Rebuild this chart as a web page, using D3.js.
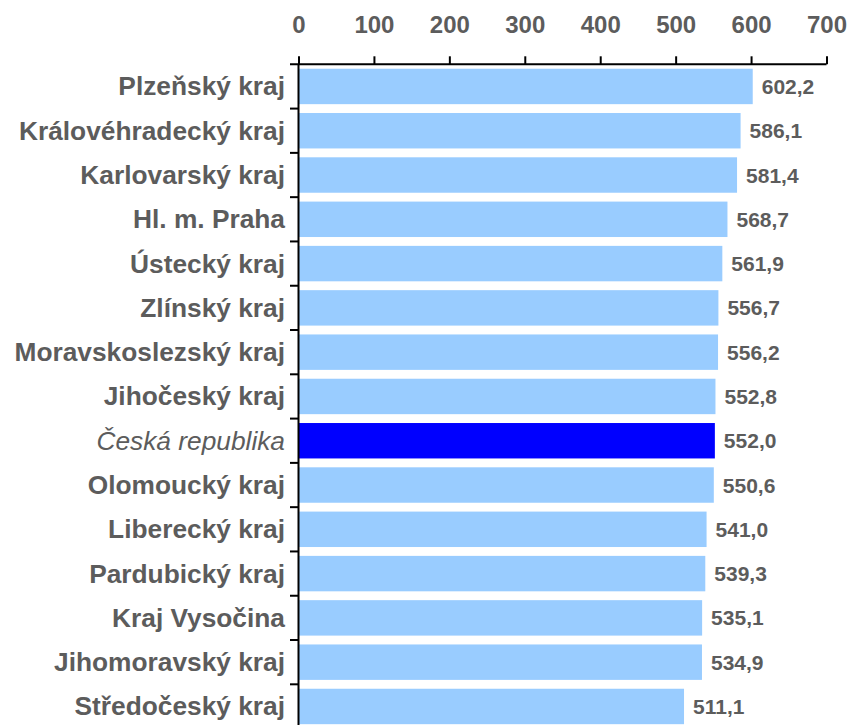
<!DOCTYPE html>
<html>
<head>
<meta charset="utf-8">
<script src="https://cdn.jsdelivr.net/npm/d3@7"></script>
<style>
  body { margin: 0; background: #fff; }
  svg { display: block; font-family: "Liberation Sans", Arial, sans-serif; }
</style>
</head>
<body>
<svg></svg>
<script>
let regions = ["Plzeňský kraj","Královéhradecký kraj","Karlovarský kraj","Hl. m. Praha","Ústecký kraj",
               "Zlínský kraj","Moravskoslezský kraj","Jihočeský kraj","Česká republika","Olomoucký kraj",
               "Liberecký kraj","Pardubický kraj","Kraj Vysočina","Jihomoravský kraj","Středočeský kraj"],
    values  = [602.2,586.1,581.4,568.7,561.9,556.7,556.2,552.8,552.0,550.6,541.0,539.3,535.1,534.9,511.1],
    xTicks  = [0,100,200,300,400,500,600,700],
    total   = "Česká republika";

let width = 852, height = 725,
    gray = "#5c5c5c",
    xScale = d3.scaleLinear().domain([0,700]).range([298.5,826.5]),
    yScale = d3.scaleBand().domain(regions).range([64.3,728.6]).paddingInner(0.2).paddingOuter(0.1),
    fmt = d => d3.format(".1f")(d).replace(".", ",");

let svg = d3.select("svg")
            .attr("width",width)
            .attr("height",height);

// bars
svg.selectAll("rect.bar")
  .data(regions)
  .enter()
  .append("rect")
  .attr("class","bar")
  .attr("x",xScale(0))
  .attr("y",d=>yScale(d))
  .attr("width",(d,i)=>xScale(values[i])-xScale(0))
  .attr("height",yScale.bandwidth())
  .attr("fill",d=>d===total ? "#0000FF" : "#99CCFF");

// value labels
svg.selectAll("text.val")
  .data(regions)
  .enter()
  .append("text")
  .attr("class","val")
  .attr("x",(d,i)=>xScale(values[i])+9)
  .attr("y",d=>yScale(d)+yScale.bandwidth()/2)
  .attr("dy","0.36em")
  .text((d,i)=>fmt(values[i]))
  .style("font-size","21px")
  .style("font-weight","bold")
  .attr("fill",gray);

// top axis
let xAxis = d3.axisTop(xScale).tickValues(xTicks).tickSize(8).tickSizeOuter(0).tickPadding(23);
let gx = svg.append("g")
  .attr("transform",`translate(0,${yScale.range()[0]})`)
  .call(xAxis);
gx.select(".domain").remove();
gx.append("line")
  .attr("x1",290).attr("x2",xScale(700))
  .attr("stroke","#000").attr("stroke-width",2);
gx.selectAll(".tick line").attr("stroke","#000").attr("stroke-width",2);
gx.selectAll(".tick text")
  .attr("fill",gray)
  .style("font-size","24px")
  .style("font-weight","bold")
  .style("font-family","'Liberation Sans', Arial, sans-serif");

// left axis: ticks at band boundaries
let step = yScale.step(), y0 = yScale.range()[0];
let gy = svg.append("g");
gy.append("line")
  .attr("x1",xScale(0)).attr("x2",xScale(0))
  .attr("y1",y0).attr("y2",height)
  .attr("stroke","#000").attr("stroke-width",2);
gy.selectAll("line.tk")
  .data(d3.range(1,regions.length))
  .enter()
  .append("line")
  .attr("class","tk")
  .attr("x1",290).attr("x2",xScale(0))
  .attr("y1",i=>y0+i*step).attr("y2",i=>y0+i*step)
  .attr("stroke","#000").attr("stroke-width",2);

// category labels
svg.selectAll("text.cat")
  .data(regions)
  .enter()
  .append("text")
  .attr("class","cat")
  .attr("x",285)
  .attr("y",d=>y0+regions.indexOf(d)*step+step/2)
  .attr("dy","0.34em")
  .text(d=>d)
  .style("text-anchor","end")
  .style("font-size","26.3px")
  .style("font-weight",d=>d===total ? "normal" : "bold")
  .style("font-style",d=>d===total ? "italic" : "normal")
  .attr("fill",gray);
</script>
</body>
</html>
